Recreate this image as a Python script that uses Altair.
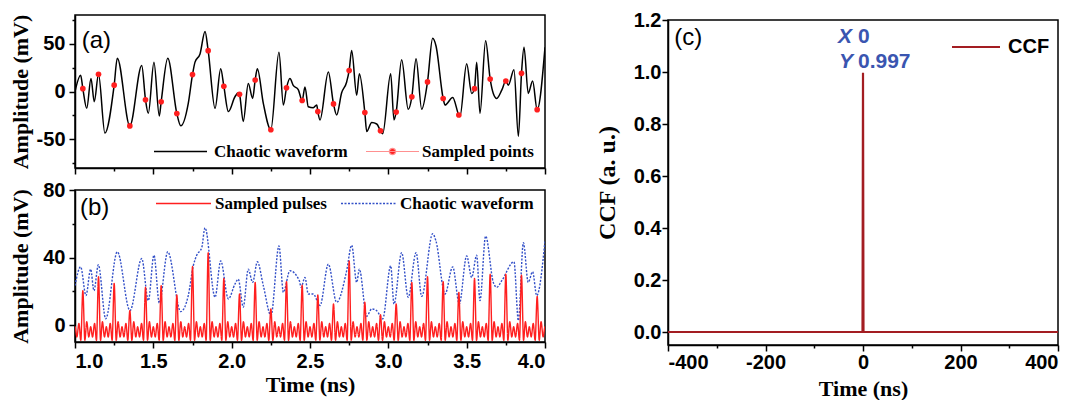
import altair as alt
import pandas as pd

# ---------------- panel (a): chaotic waveform + sampled points ----------------
WAVE_A_T = [1.000, 1.036, 1.050, 1.075, 1.102, 1.123, 1.150, 1.191, 1.250, 1.270,
            1.350, 1.426, 1.450, 1.468, 1.504, 1.538, 1.550, 1.592, 1.650, 1.675,
            1.723, 1.750, 1.766, 1.798, 1.830, 1.850, 1.894, 1.930, 1.950, 1.979,
            2.021, 2.042, 2.050, 2.074, 2.106, 2.134, 2.150, 2.164, 2.202, 2.250,
            2.302, 2.330, 2.350, 2.372, 2.393, 2.425, 2.450, 2.468, 2.489, 2.521,
            2.543, 2.550, 2.564, 2.617, 2.650, 2.670, 2.702, 2.734, 2.750, 2.766,
            2.798, 2.815, 2.850, 2.862, 2.894, 2.926, 2.950, 2.964, 3.015, 3.036,
            3.050, 3.085, 3.127, 3.150, 3.177, 3.213, 3.250, 3.283, 3.304, 3.350,
            3.362, 3.411, 3.450, 3.457, 3.500, 3.532, 3.550, 3.564, 3.585, 3.621,
            3.650, 3.670, 3.692, 3.724, 3.750, 3.766, 3.802, 3.830, 3.850, 3.866,
            3.893, 3.921, 3.950, 4.000]
WAVE_A_V = [0, 17, 3, -17.6, 13.5, -10.7, 18, -43.5, 6.6, 34.9,
            -36, 27.2, -8.7, -22.8, 30.7, -25.5, -10.7, 34.9, -23, -35.9,
            -12.4, 17.7, 30.7, 39.3, 62.8, 42.7, -17.6, 23.8, 5.5, -21,
            -5.5, -1.4, -3, -31.4, 8.3, -7.2, 12, 23.8, -12.4, -40,
            41, -14.2, 3.8, 13.5, 6.5, 2, -9.4, 4.8, -15.9, -17,
            -14, -21, -29.7, 20.4, -13, -24.5, -1.4, 10, 22, 42.8,
            -3.8, 18.6, -22, -41.7, -32.4, -34, -41, -44.2, 18.6, -29.7,
            -21.5, 33.1, -18.6, -5.6, 34.2, -18.6, 10, 55.6, 47.9, -7.3,
            -14.2, -6.2, -24.6, -26.2, 28.9, -2, 3, 30.7, -22.8, 53.1,
            13, -2, -7.2, 1.4, 11, 6.6, 22.8, -46.9, 19, 46.3,
            -2, 11, -19, 46.3]

SAMPLE_T = [1.05, 1.15, 1.25, 1.35, 1.45, 1.55, 1.65, 1.75, 1.85, 1.95,
            2.05, 2.15, 2.25, 2.35, 2.45, 2.55, 2.65, 2.75, 2.85, 2.95,
            3.05, 3.15, 3.25, 3.35, 3.45, 3.55, 3.65, 3.75, 3.85, 3.95]
SAMPLE_A = [3, 18, 6.6, -36, -8.7, -10.7, -23, 17.7, 42.7, 5.5,
            -3, 12, -40, 3.8, -9.4, -21, -13, 22, -22, -41,
            -21.5, -5.6, 10, -7.3, -24.6, 3, 13, 11, 19, -19]

# ---------------- panel (b): sampled pulses + chaotic waveform ----------------
WAVE_B_T = [1.000, 1.036, 1.070, 1.100, 1.121, 1.149, 1.196, 1.270, 1.351, 1.426,
            1.468, 1.504, 1.538, 1.592, 1.675, 1.723, 1.755, 1.777, 1.809, 1.830,
            1.894, 1.930, 1.979, 2.021, 2.042, 2.074, 2.106, 2.134, 2.164, 2.202,
            2.251, 2.302, 2.330, 2.372, 2.432, 2.443, 2.468, 2.489, 2.521, 2.564,
            2.617, 2.670, 2.734, 2.766, 2.798, 2.815, 2.862, 2.894, 2.926, 2.964,
            3.015, 3.036, 3.085, 3.127, 3.177, 3.213, 3.283, 3.304, 3.362, 3.411,
            3.453, 3.500, 3.532, 3.564, 3.585, 3.621, 3.670, 3.692, 3.724, 3.802,
            3.830, 3.862, 3.893, 3.921, 3.947, 4.000]
WAVE_B_V = [23.4, 34.5, 17.5, 33.1, 20.4, 35.7, 3.7, 43.4, 8.6, 39.4,
            14.5, 41.4, 13.1, 43.4, 8.0, 17.5, 35.1, 41.4, 45.9, 57.6,
            16.5, 38.0, 15.5, 24.3, 27.2, 10.6, 33.1, 25.3, 37.5, 23.4,
            5.7, 46.9, 19.4, 32.2, 26.3, 22.4, 28.2, 18.4, 18.4, 11.6,
            36.1, 13.5, 32.2, 47.3, 25.3, 33.1, 5.3, 9.6, 8.5, 3.7,
            35.1, 12.5, 42.9, 16.5, 42.9, 17.0, 54.1, 49.8, 18.4, 34.5,
            12.5, 41.0, 28.2, 41.4, 14.5, 52.7, 25.3, 22.4, 26.3, 37.5,
            2.7, 48.8, 25.3, 31.6, 17.5, 49.8]
PULSE_B = [20.4, 28.6, 24.7, 8.6, 22.4, 23.4, 17.8, 34.7, 42.9, 27.6,
           18.4, 25.3, 9.6, 25.7, 23.7, 17.8, 12.5, 38.0, 13.5, 6.1,
           12.5, 25.3, 28.6, 25.7, 19.4, 27.6, 30.2, 30.2, 29.6, 17.0]
# side-lobe ripple read between two neighbouring pulses (offset after pulse, value)
RIPPLE_DT = [0.013, 0.025, 0.038, 0.050, 0.062, 0.075, 0.087]
RIPPLE_V = [-9, 2, -7, -1, -7, 1, -9]

# ---------------- panel (c): cross-correlation ----------------
CCF_T = [-400, -1, 0, 1, 400]
CCF_V = [0, 0, 0.997, 0, 0]
PEAK_T = 0
PEAK_V = 0.997

X_TICKS = [1.0, 1.25, 1.5, 1.75, 2.0, 2.25, 2.5, 2.75, 3.0, 3.25, 3.5, 3.75, 4.0]
YA_TICKS = [-75, -50, -25, 0, 25, 50, 75]
YB_TICKS = [0, 20, 40, 60, 80]
XC_TICKS = [-400, -300, -200, -100, 0, 100, 200, 300, 400]
YC_TICKS = [0.0, 0.1, 0.2, 0.3, 0.4, 0.5, 0.6, 0.7, 0.8, 0.9, 1.0, 1.1, 1.2]

RED = "#ff1f1f"
BLUE = "#3350c8"
DARKRED = "#a31d22"
ANN_BLUE = "#3a55b0"
SANS = "Liberation Sans"
SERIF = "Liberation Serif"
HYPHEN = "replace(datum.label, '\\u2212', '-')"

# ---------------- tables ----------------
wave_a = pd.DataFrame({"t": WAVE_A_T, "v": WAVE_A_V, "s": "Chaotic waveform"})
pts_a = pd.DataFrame({"t": SAMPLE_T, "v": SAMPLE_A, "s": "Sampled points"})

pt, pv = [], []
for k, t0 in enumerate(SAMPLE_T):
    pt.append(t0)
    pv.append(PULSE_B[k])
    for dt, rv in zip(RIPPLE_DT, RIPPLE_V):
        pt.append(round(t0 + dt, 4))
        pv.append(rv)
for dt, rv in zip(RIPPLE_DT, RIPPLE_V):
    pt.append(round(SAMPLE_T[0] - 0.1 + dt, 4))
    pv.append(rv)
pulses = pd.DataFrame({"t": pt, "v": pv, "s": "Sampled pulses"}).sort_values("t")
wave_b = pd.DataFrame({"t": WAVE_B_T, "v": WAVE_B_V, "s": "Chaotic waveform"})
df_b = pd.concat([wave_b, pulses], ignore_index=True)

ccf = pd.DataFrame({"t": CCF_T, "v": CCF_V, "s": "CCF"})
peak = pd.DataFrame({"t": [PEAK_T], "v": [PEAK_V], "xl": ["X"], "yl": ["Y"],
                     "xn": [f"{PEAK_T:g}"], "yn": [f"{PEAK_V:.3f}"]})

MAJ_X = "abs(datum.value*2 - round(datum.value*2)) < 0.001"


def tsize(test):
    return {"condition": {"test": test, "value": 6}, "value": 3}


# ---------------- panel (a) ----------------
xa = alt.X("t:Q", scale=alt.Scale(domain=[1, 4], nice=False, zero=False),
           axis=alt.Axis(values=X_TICKS, labels=False, title=None, tickSize=tsize(MAJ_X)))
ya = alt.Y("v:Q", scale=alt.Scale(domain=[-80, 80], nice=False),
           axis=alt.Axis(values=YA_TICKS, labelExpr="datum.value % 50 == 0 ? " + HYPHEN + " : ''",
                         tickSize=tsize("datum.value % 50 == 0"), labelPadding=4,
                         title="Amplitude (mV)", titleX=-55, titleY=76.5, titleAngle=270,
                         titleAlign="center", titleBaseline="middle"))

line_a = alt.Chart(wave_a).mark_line(interpolate="monotone", strokeWidth=1.5, clip=True).encode(
    x=xa, y=ya,
    stroke=alt.Stroke("s:N", scale=alt.Scale(domain=["Chaotic waveform"], range=["black"]),
                      legend=alt.Legend(title=None, orient="none", legendX=78, legendY=109,
                                        symbolType="stroke", symbolSize=2809, symbolStrokeWidth=1.5,
                                        labelOffset=6)))
pts_chart = alt.Chart(pts_a).mark_point(filled=True, size=32, opacity=1, strokeWidth=0).encode(
    x=xa, y=ya,
    fill=alt.Fill("s:N", scale=alt.Scale(domain=["Sampled points"], range=[RED]),
                  legend=alt.Legend(title=None, orient="none", legendX=290, legendY=109,
                                    symbolType="M-1,0L1,0M0.12,0A0.12,0.12,0,1,1,-0.12,0A0.12,0.12,0,1,1,0.12,0",
                                    symbolSize=2809, symbolStrokeColor="#ff9090",
                                    symbolStrokeWidth=1.2, labelOffset=2)))
lab_a = alt.Chart(pd.DataFrame({"lab": ["(a)"]})).mark_text(
    align="left", baseline="middle", font=SANS, fontSize=24, color="black").encode(
    x=alt.value(6.7), y=alt.value(25.7), text="lab:N")
panel_a = alt.layer(line_a, pts_chart, lab_a).properties(width=470, height=153)

# ---------------- panel (b) ----------------
xb = alt.X("t:Q", scale=alt.Scale(domain=[1, 4], nice=False, zero=False),
           axis=alt.Axis(values=X_TICKS, tickSize=tsize(MAJ_X), labelPadding=3,
                         labelExpr=MAJ_X + " ? format(datum.value, '.1f') : ''",
                         title="Time (ns)", titleY=42, titleBaseline="middle"))
yb = alt.Y("v:Q", scale=alt.Scale(domain=[-10, 80], nice=False),
           axis=alt.Axis(values=YB_TICKS, labelExpr="datum.value % 40 == 0 ? datum.label : ''",
                         tickSize=tsize("datum.value % 40 == 0"), labelPadding=4,
                         title="Amplitude (mV)", titleX=-55, titleY=76, titleAngle=270,
                         titleAlign="center", titleBaseline="middle"))
leg_b = alt.Legend(title=None, orient="none", legendX=80, legendY=-15,
                   direction="horizontal", symbolType="stroke",
                   symbolSize=3025, symbolStrokeWidth=1.5,
                   labelOffset=3, columnPadding=11, gridAlign="none")
line_b = alt.Chart(df_b).mark_line(interpolate="monotone", strokeWidth=1.4, clip=True).encode(
    x=xb, y=yb,
    stroke=alt.Stroke("s:N", scale=alt.Scale(domain=["Sampled pulses", "Chaotic waveform"],
                                             range=[RED, BLUE]), legend=leg_b),
    strokeDash=alt.StrokeDash("s:N", scale=alt.Scale(domain=["Sampled pulses", "Chaotic waveform"],
                                                     range=[[1, 0], [2, 1.5]]), legend=leg_b),
)
lab_b = alt.Chart(pd.DataFrame({"lab": ["(b)"]})).mark_text(
    align="left", baseline="middle", font=SANS, fontSize=24, color="black").encode(
    x=alt.value(5), y=alt.value(18), text="lab:N")
panel_b = alt.layer(line_b, lab_b).properties(width=470, height=152)

# ---------------- panel (c) ----------------
xc = alt.X("t:Q", scale=alt.Scale(domain=[-400, 400], nice=False),
           axis=alt.Axis(values=XC_TICKS, tickSize=tsize("datum.value % 200 == 0"),
                         labelExpr="datum.value % 200 == 0 ? " + HYPHEN + " : ''", labelPadding=1,
                         title="Time (ns)", titleY=43, titleBaseline="middle"))
MAJ_C = "abs(datum.value*5 - round(datum.value*5)) < 0.001"
yc = alt.Y("v:Q", scale=alt.Scale(domain=[-0.05, 1.2], nice=False, zero=False),
           axis=alt.Axis(values=YC_TICKS, tickSize=tsize(MAJ_C), labelPadding=1,
                         labelExpr=MAJ_C + " ? format(datum.value, '.1f') : ''",
                         title="CCF (a. u.)", titleFontSize=24, titleX=-61, titleY=162.5,
                         titleAngle=270, titleAlign="center", titleBaseline="middle"))
line_c = alt.Chart(ccf).mark_line(strokeWidth=2.2, clip=True).encode(
    x=xc, y=yc,
    stroke=alt.Stroke("s:N", scale=alt.Scale(domain=["CCF"], range=[DARKRED]),
                      legend=alt.Legend(title=None, orient="none", legendX=283, legendY=2,
                                        symbolType="stroke", symbolSize=2304, symbolStrokeWidth=2,
                                        labelOffset=7, labelFont=SANS, labelFontSize=20)))
ann_kw = dict(baseline="middle", align="left", font=SANS, fontSize=21, fontWeight="bold", color=ANN_BLUE)
ann_x1 = alt.Chart(peak).mark_text(dx=-25, dy=-36, fontStyle="italic", **ann_kw).encode(x="t:Q", y="v:Q", text="xl:N")
ann_x2 = alt.Chart(peak).mark_text(dx=-5, dy=-36, **ann_kw).encode(x="t:Q", y="v:Q", text="xn:N")
ann_y1 = alt.Chart(peak).mark_text(dx=-24, dy=-11, fontStyle="italic", **ann_kw).encode(x="t:Q", y="v:Q", text="yl:N")
ann_y2 = alt.Chart(peak).mark_text(dx=-5, dy=-11, **ann_kw).encode(x="t:Q", y="v:Q", text="yn:N")
lab_c = alt.Chart(pd.DataFrame({"lab": ["(c)"]})).mark_text(
    align="left", baseline="middle", font=SANS, fontSize=24, color="black").encode(
    x=alt.value(6.3), y=alt.value(18.4), text="lab:N")
panel_c = alt.layer(line_c, ann_x1, ann_x2, ann_y1, ann_y2, lab_c).properties(width=390, height=325)


def spacer(w):
    return alt.Chart(pd.DataFrame({"t": [0], "v": [0]})).mark_point(opacity=0).encode(
        x=alt.X("t:Q", axis=None), y=alt.Y("v:Q", axis=None)
    ).properties(width=w, height=1, view=alt.ViewBackground(stroke="transparent"))


IND = dict(stroke="independent", strokeDash="independent", fill="independent")
inner = alt.vconcat(panel_a, panel_b, spacing=22, bounds="flush").resolve_scale(**IND)
left = alt.vconcat(spacer(470), inner, spacing=3, bounds="flush").resolve_scale(**IND)
right = alt.vconcat(spacer(390), panel_c, spacing=8, bounds="flush").resolve_scale(**IND)

chart = alt.hconcat(left, right, spacing=47).resolve_scale(**IND).properties(
    padding={"left": 0, "top": 0, "right": 2, "bottom": 2}
).configure_view(
    stroke="black", strokeWidth=1.5
).configure_axis(
    grid=False, domainColor="black", domainWidth=1.5, tickColor="black", tickWidth=1.5,
    labelFont=SANS, labelFontWeight="bold", labelFontSize=20, labelColor="black",
    titleFont=SERIF, titleFontWeight="bold", titleFontSize=22, titleColor="black"
).configure_legend(
    labelFont=SERIF, labelFontWeight="bold", labelFontSize=17, labelColor="black",
    padding=0, labelLimit=400
)

chart.save("out.html", embed_options={"renderer": "svg", "actions": False})
